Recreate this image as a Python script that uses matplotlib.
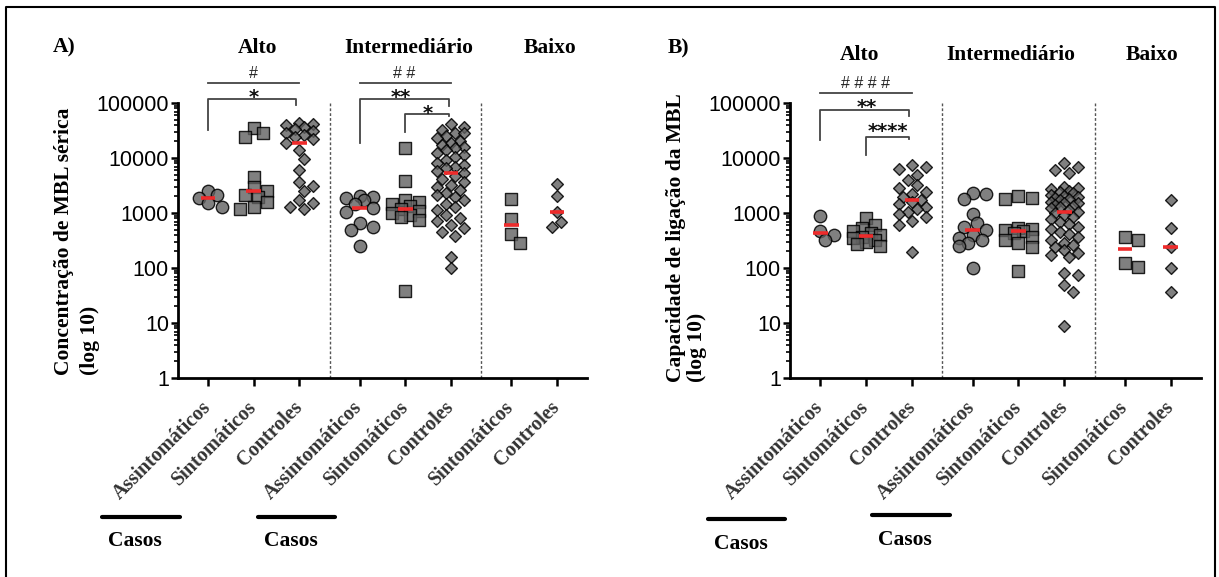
import numpy as np
import matplotlib
matplotlib.use("Agg")
import matplotlib.pyplot as plt
from matplotlib import transforms
from matplotlib.lines import Line2D
from matplotlib.ticker import FixedLocator, LogLocator, NullFormatter, FuncFormatter

W, H = 1219, 577

# ---- dados ----
categorias = ["Assintomáticos", "Sintomáticos", "Controles",
              "Assintomáticos", "Sintomáticos", "Controles",
              "Sintomáticos", "Controles"]
grupos = ["Alto", "Intermediário", "Baixo"]

# A) Concentração de MBL sérica
A_alto_assint = [2550, 2100, 1880, 1550, 1300]
A_alto_sint = [34700, 28100, 24400, 4460, 2930, 2540, 2100, 1980, 1600, 1300, 1180]
A_alto_ctrl = [43300, 41500, 39800, 36600, 33700, 31000, 28500, 26200, 24100, 22200,
               19000, 14000, 9600, 6050, 3710, 3100, 2540, 1720, 1500, 1300, 1180]
A_inter_assint = [2080, 1980, 1870, 1720, 1460, 1250, 1060, 650, 564, 491, 254]
A_inter_sint = [15400, 3820, 1720, 1585, 1460, 1340, 1170, 1090, 1000, 920, 846, 746, 38.6]
A_inter_ctrl = [41500, 37100, 32300, 28900, 28100, 25100, 22800, 20700, 18500, 17200,
                16100, 15000, 14000, 12500, 11300, 10300, 9200, 8000, 7460, 6950,
                6490, 5890, 5410, 4710, 4100, 3720, 3230, 2930, 2620, 2340,
                2120, 1930, 1720, 1460, 1300, 1130, 920, 800, 726, 605,
                526, 458, 382, 161, 99]
A_baixo_sint = [1800, 778, 410, 288]
A_baixo_ctrl = [3320, 2065, 1030, 695, 563]

# B) Capacidade de ligação da MBL
B_alto_assint = [894, 480, 400, 323]
B_alto_sint = [800, 605, 526, 471, 427, 398, 371, 346, 323, 301, 273, 251]
B_alto_ctrl = [7460, 6950, 6220, 4910, 3980, 3230, 2810, 2440, 2210, 1980,
               1720, 1610, 1460, 1300, 1170, 1060, 960, 857, 726, 605, 193]
B_inter_assint = [2340, 2180, 1770, 945, 649, 564, 491, 398, 346, 323, 289, 255, 99]
B_inter_sint = [2040, 1900, 1770, 526, 505, 491, 471, 427, 371, 323, 281, 244, 89]
B_inter_ctrl = [8220, 6950, 6050, 5260, 2930, 2810, 2690, 2550, 2440, 2280,
                2120, 2040, 1980, 1850, 1770, 1720, 1610, 1540, 1500, 1400,
                1340, 1300, 1220, 1130, 1060, 986, 920, 857, 767, 695,
                631, 564, 505, 458, 415, 371, 323, 289, 262, 238,
                212, 190, 172, 156, 80, 75, 49, 37, 8.8]
B_baixo_sint = [371, 323, 125, 106]
B_baixo_ctrl = [1720, 541, 244, 99, 36]

dados_A = [A_alto_assint, A_alto_sint, A_alto_ctrl, A_inter_assint, A_inter_sint,
           A_inter_ctrl, A_baixo_sint, A_baixo_ctrl]
dados_B = [B_alto_assint, B_alto_sint, B_alto_ctrl, B_inter_assint, B_inter_sint,
           B_inter_ctrl, B_baixo_sint, B_baixo_ctrl]

# ---- estilo / layout ----
posicoes = [0, 1, 2, 3.32, 4.32, 5.32, 6.64, 7.64]
separadores = [2.66, 5.98]
marcadores = ['o', 's', 'D', 'o', 's', 'D', 's', 'D']
tamanhos = {'o': 80, 's': 72, 'D': 36}
SERIF = 'Liberation Serif'
SANS = 'Liberation Sans'
FS = 15.5

fig = plt.figure(figsize=(W / 100, H / 100), dpi=100)


def fx(x):
    return x / W


def fy(y):
    return 1 - y / H


def swarm(ax, x0, vals, diam=10.0, step=4.5, max_off=13.5):
    # espalhamento simples tipo "beeswarm" em pixels
    tr = ax.transData
    pts = tr.transform(np.column_stack([np.full(len(vals), x0), vals]))
    ys = pts[:, 1]
    cx = pts[0, 0]
    cands = [0.0]
    k = 1
    while k * step <= max_off + 0.01:
        cands += [k * step, -k * step]
        k += 1
    placed = []
    offs = np.zeros(len(vals))
    for i in np.argsort(-ys):
        best, bestd, bestc = None, -1, 0
        for c in cands:
            d = min([np.hypot(c - px, ys[i] - py) for px, py in placed], default=1e9)
            if d >= diam:
                best = c
                break
            if d > bestd:
                bestd, bestc = d, c
        if best is None:
            best = bestc
        placed.append((best, ys[i]))
        offs[i] = best
    inv = tr.inverted()
    return inv.transform(np.column_stack([cx + offs, ys]))[:, 0]


def painel(left_px, right_px, dados):
    ax = fig.add_axes([fx(left_px), fy(378), (right_px - left_px) / W, 275 / H])
    ax.set_yscale('log')
    ax.set_ylim(1, 1e5)
    ax.set_xlim(-0.66, 8.3)
    for pos, vals, m in zip(posicoes, dados, marcadores):
        xs = swarm(ax, pos, vals)
        ax.scatter(xs, vals, marker=m, s=tamanhos[m], facecolor=(0.38, 0.38, 0.38, 0.8),
                   edgecolor=(0, 0, 0, 0.85), linewidth=1.0, zorder=3, clip_on=False)
        ax.hlines(np.median(vals), pos - 0.16, pos + 0.16, color='#ee2b2b', lw=2.6, zorder=5)
    for s in separadores:
        ax.axvline(s, color='#555555', lw=1.0, ls=(0, (2, 1.5)), zorder=1)
    for sp in ['top', 'right']:
        ax.spines[sp].set_visible(False)
    for sp in ['left', 'bottom']:
        ax.spines[sp].set_linewidth(2.0)
    ax.yaxis.set_major_locator(FixedLocator([1, 10, 100, 1000, 10000, 100000]))
    ax.yaxis.set_major_formatter(FuncFormatter(lambda v, p: f"{int(round(v))}"))
    ax.yaxis.set_minor_locator(LogLocator(base=10, subs=np.arange(2, 10)))
    ax.yaxis.set_minor_formatter(NullFormatter())
    ax.tick_params(axis='y', which='major', length=5, width=1.8, pad=1.5, labelsize=FS)
    ax.tick_params(axis='y', which='minor', length=2.8, width=1.2)
    ax.tick_params(axis='x', length=5.8, width=1.8, pad=13)
    ax.set_xticks(posicoes)
    ax.set_xticklabels(categorias, rotation=45, ha='right', va='center',
                       rotation_mode='anchor', fontfamily=SERIF, fontweight='bold',
                       fontsize=14.5, color='#333333')
    for lb in ax.get_yticklabels():
        lb.set_fontfamily(SANS)
    return ax


axA = painel(178, 587, dados_A)
axB = painel(790, 1201, dados_B)


def texto(x, y, s, **kw):
    d = dict(fontfamily=SERIF, fontweight='bold', fontsize=FS, ha='center', va='baseline')
    d.update(kw)
    fig.text(fx(x), fy(y), s, **d)


# letras dos painéis e títulos de grupo
texto(64, 52, "A)")
texto(678, 53, "B)")
for g, x in zip(grupos, [258, 409, 550]):
    texto(x, 53, g)
for g, x in zip(grupos, [860, 1011, 1152]):
    texto(x, 60, g)

# rótulos do eixo y
texto(64, 375, "Concentração de MBL sérica", rotation=90, va='bottom')
texto(90, 375, "(log 10)", rotation=90, va='bottom')
texto(676, 382, "Capacidade de ligação da MBL", rotation=90, va='bottom')
texto(697, 382, "(log 10)", rotation=90, va='bottom')


# barras de significância
def linha(ax, xs, ys):
    tr = transforms.blended_transform_factory(ax.transData, fig.transFigure)
    fig.add_artist(Line2D(xs, [fy(v) for v in ys], transform=tr, color='#444444', lw=1.3))


def rotulo(ax, x, y, s, estrela=True):
    tr = transforms.blended_transform_factory(ax.transData, fig.transFigure)
    if estrela:
        fig.text(x, fy(y + 10.5), s, transform=tr, ha='center', va='baseline',
                 fontfamily='DejaVu Sans', fontweight='bold', fontsize=14, color='#111111')
    else:
        fig.text(x, fy(y + 5.5), s, transform=tr, ha='center', va='baseline',
                 fontfamily=SANS, fontsize=11.5, color='#222222')


# painel A
linha(axA, [0, 2], [83, 83])
rotulo(axA, 1, 73, "#", estrela=False)
linha(axA, [0, 0, 1.93, 1.93], [130, 99, 99, 105])
rotulo(axA, 1, 92, "*")
linha(axA, [3.32, 5.32], [83, 83])
rotulo(axA, 4.29, 73, "# #", estrela=False)
linha(axA, [3.32, 3.32, 5.27, 5.27], [143, 99, 99, 106])
rotulo(axA, 4.22, 92, "**")
linha(axA, [4.32, 4.32, 5.27, 5.27], [132, 114, 114, 116])
rotulo(axA, 4.81, 108, "*")

# painel B
linha(axB, [0, 2], [93, 93])
rotulo(axB, 0.98, 83, "# # # #", estrela=False)
linha(axB, [0, 0, 1.93, 1.93], [140, 110, 110, 116])
rotulo(axB, 1.02, 103, "**")
linha(axB, [1, 1, 1.93, 1.93], [155, 137, 137, 139])
rotulo(axB, 1.48, 127, "****")

# "Casos"
for x1, x2, yb, xt, yt in [(102, 180, 517, 135, 546), (258, 335, 517, 291, 546),
                           (708, 785, 519, 741, 549), (872, 950, 515, 905, 545)]:
    fig.add_artist(Line2D([fx(x1), fx(x2)], [fy(yb), fy(yb)], transform=fig.transFigure,
                          color='black', lw=3, solid_capstyle='round'))
    texto(xt, yt, "Casos")

# moldura
fig.add_artist(Line2D([fx(6), fx(6), fx(1215), fx(1215)], [fy(580), fy(7), fy(7), fy(580)],
                      transform=fig.transFigure, color='black', lw=1.5))

fig.savefig("out.png", dpi=100)
